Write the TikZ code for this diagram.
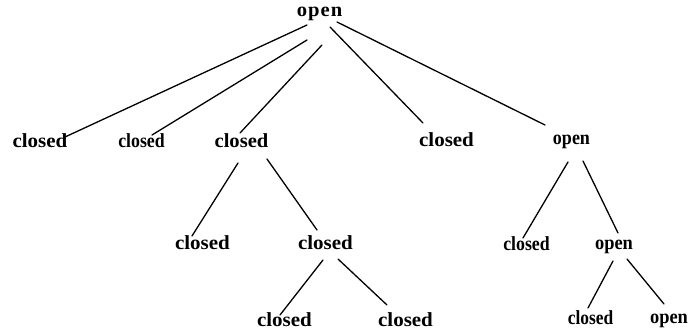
\documentclass[tikz,border=0pt]{standalone}
\usepackage{fontspec}
\setmainfont{Liberation Serif}
\begin{document}
\begin{tikzpicture}[x=1pt,y=-1pt,
  lbl/.style={anchor=base,inner sep=0pt,font=\fontsize{20}{20}\selectfont\bfseries},
  edge/.style={line width=1.3pt,line cap=round}]
\useasboundingbox (0,0) rectangle (689,331);
% nodes
\node[lbl] (root) at (319.5,17) {\scalebox{1.03}[1]{o\kern1pt p\kern1pt e\kern1pt n}};
\node[lbl] (c1) at (40,148) {\scalebox{1.05}[1]{closed}};
\node[lbl] (c2) at (141.5,148) {\scalebox{0.89}[1]{closed}};
\node[lbl] (c3) at (241.5,148) {\scalebox{1.03}[1]{closed}};
\node[lbl] (c4) at (446.5,147) {\scalebox{1.05}[1]{closed}};
\node[lbl] (o2) at (571.5,145) {\scalebox{0.9}[1]{open}};
\node[lbl] (c5) at (202.5,250) {\scalebox{1.05}[1]{closed}};
\node[lbl] (c6) at (325.5,250) {\scalebox{1.05}[1]{closed}};
\node[lbl] (c9) at (526.5,251) {\scalebox{0.89}[1]{closed}};
\node[lbl] (o3) at (614,250) {\scalebox{0.92}[1]{open}};
\node[lbl] (c7) at (284.5,327) {\scalebox{1.05}[1]{closed}};
\node[lbl] (c8) at (405.5,327) {\scalebox{1.05}[1]{closed}};
\node[lbl] (c10) at (590.5,325) {\scalebox{0.87}[1]{closed}};
\node[lbl] (o4) at (669,324) {\scalebox{0.92}[1]{open}};
% edges
\draw[edge] ([shift={(-12.5,8)}]root.base) -- ([shift={(25,-11)}]c1.base);
\draw[edge] ([shift={(-12.5,23)}]root.base) -- ([shift={(10.5,-13)}]c2.base);
\draw[edge] ([shift={(2.5,28)}]root.base) -- ([shift={(-1.5,-15)}]c3.base);
\draw[edge] ([shift={(10.5,10)}]root.base) -- ([shift={(-23.5,-24)}]c4.base);
\draw[edge] ([shift={(17.5,5)}]root.base) -- ([shift={(-26.5,-20)}]o2.base);
\draw[edge] ([shift={(-3.5,15)}]c3.base) -- ([shift={(-10.5,-14)}]c5.base);
\draw[edge] ([shift={(25.5,11)}]c3.base) -- ([shift={(-8.5,-20)}]c6.base);
\draw[edge] ([shift={(-2.5,10)}]c6.base) -- ([shift={(-4.5,-12)}]c7.base);
\draw[edge] ([shift={(12.5,9)}]c6.base) -- ([shift={(-18.5,-22)}]c8.base);
\draw[edge] ([shift={(-3.5,17)}]o2.base) -- ([shift={(-3.5,-13)}]c9.base);
\draw[edge] ([shift={(11.5,16)}]o2.base) -- ([shift={(4,-17)}]o3.base);
\draw[edge] ([shift={(-1,11)}]o3.base) -- ([shift={(-2.5,-17)}]c10.base);
\draw[edge] ([shift={(13,9)}]o3.base) -- ([shift={(-5,-20)}]o4.base);
\end{tikzpicture}
\end{document}
